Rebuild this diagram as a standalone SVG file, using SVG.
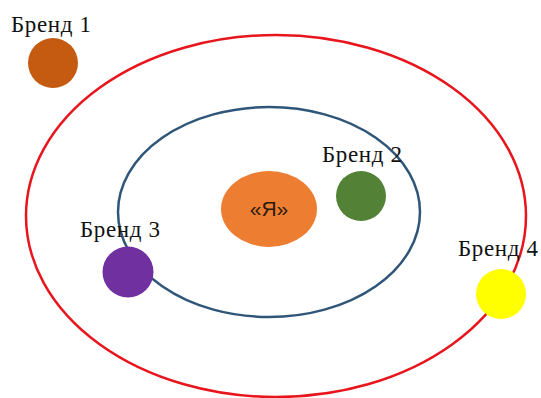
<svg xmlns="http://www.w3.org/2000/svg" width="541" height="398" viewBox="0 0 541 398">
  <style>
    .orbit { fill: none; }
    .label { font-family: "Liberation Serif", "Times New Roman", serif; font-size: 23px; fill: #111; }
    .core { font-family: "Liberation Sans", Arial, sans-serif; font-size: 21px; fill: #2a1a10; text-anchor: middle; }
  </style>
  <rect width="541" height="398" fill="#ffffff"/>
  <!-- orbits -->
  <g id="connectors">
    <ellipse class="orbit" cx="276" cy="216" rx="250" ry="181" stroke="#e8151d" stroke-width="2.5"/>
    <ellipse class="orbit" cx="269" cy="212" rx="151" ry="105" stroke="#2f5578" stroke-width="2.5"/>
  </g>
  <g id="self">
    <ellipse cx="269" cy="209" rx="48" ry="38" fill="#ed7d31"/>
    <text class="core" x="269" y="216">«Я»</text>
  </g>
  <g id="brand1">
    <circle cx="53" cy="63" r="25" fill="#c55a11"/>
    <text class="label" x="11" y="32" textLength="80">Бренд 1</text>
  </g>
  <g id="brand2">
    <circle cx="361" cy="196" r="25" fill="#538135"/>
    <text class="label" x="322" y="162" textLength="80">Бренд 2</text>
  </g>
  <g id="brand3">
    <circle cx="128" cy="272" r="25.5" fill="#7030a0"/>
    <text class="label" x="80" y="237" textLength="80">Бренд 3</text>
  </g>
  <g id="brand4">
    <circle cx="501" cy="294" r="25" fill="#ffff00"/>
    <text class="label" x="458" y="256" textLength="80">Бренд 4</text>
  </g>
</svg>
